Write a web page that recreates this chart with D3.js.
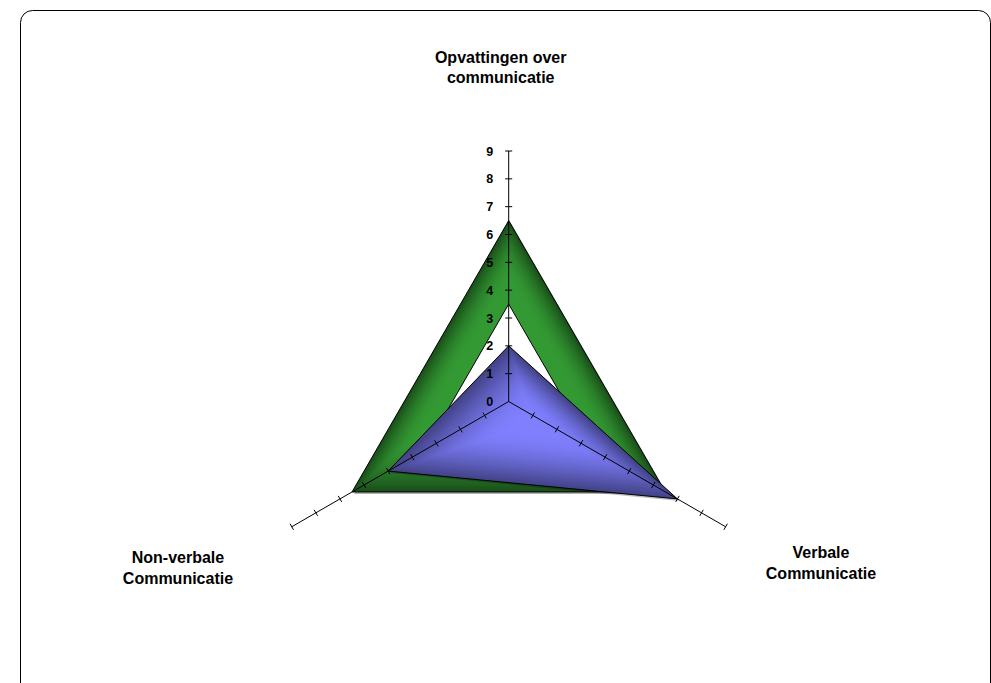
<!DOCTYPE html>
<html>
<head>
<meta charset="utf-8">
<script src="https://cdn.jsdelivr.net/npm/d3@7"></script>
<style>
  html, body { margin: 0; padding: 0; background: #fff; }
  svg { display: block; }
  text { font-family: "Liberation Sans", Arial, sans-serif; font-weight: bold; fill: #000; }
</style>
</head>
<body>
<svg id="chart" width="991" height="683"></svg>
<script>
// Axis categories (one line of text per array entry)
const categories = [
  ["Opvattingen over", "communicatie"],
  ["Verbale", "Communicatie"],
  ["Non-verbale", "Communicatie"]
];

// Radial scale tick labels
const tickLabels = [0, 1, 2, 3, 4, 5, 6, 7, 8, 9];

// Series values, in category order
const seriesOuter = [6.5, 6.5, 6.5];
const seriesInner = [3.5, 3.5, 3.5];
const seriesBlue  = [2, 7, 5];

const width = 991, height = 683;
const cx = 508.7, cy = 401.5;
const rMax = 250.5;

const svg = d3.select("#chart");

// Rounded chart-area frame
svg.append("rect")
  .attr("x", 20.5).attr("y", 10.5)
  .attr("width", 970).attr("height", 700)
  .attr("rx", 12).attr("ry", 12)
  .attr("fill", "#fff")
  .attr("stroke", "#000").attr("stroke-width", 1);

const r = d3.scaleLinear().domain([0, 9]).range([0, rMax]);
const angle = d3.scalePoint().domain(d3.range(categories.length)).range([0, 240]);
const rad = i => (angle(i) - 90) * Math.PI / 180;
const pt = (i, v) => [cx + r(v) * Math.cos(rad(i)), cy + r(v) * Math.sin(rad(i))];

const line = d3.line().curve(d3.curveLinearClosed);

// Fill a polygon with a shape-following gradient: nested copies shrunk
// toward the bounding-box centre, edge colour outside, centre colour inside.
function shadedPolygon(g, pts, edgeCol, centreCol, reach, ease, steps) {
  const xs = pts.map(p => p[0]), ys = pts.map(p => p[1]);
  const c = [(d3.min(xs) + d3.max(xs)) / 2, (d3.min(ys) + d3.max(ys)) / 2];
  const col = d3.interpolateRgb(edgeCol, centreCol);
  const levels = d3.range(steps + 1).map(k => k / steps);
  g.selectAll(null).data(levels).join("path")
    .attr("d", t => line(pts.map(p => [c[0] + (1 - t) * (p[0] - c[0]), c[1] + (1 - t) * (p[1] - c[1])])))
    .attr("fill", t => col(ease(Math.min(1, t / reach))))
    .attr("stroke", "none");
}

function seriesPoints(values) {
  return values.map((v, i) => pt(i, v));
}

const plot = svg.append("g");

// Drop shadow of the outer series
plot.append("path")
  .attr("d", line(seriesPoints(seriesOuter)))
  .attr("transform", "translate(2,2)")
  .attr("fill", "#000").attr("opacity", 0.3);

// Outer green series
const ptsOuter = seriesPoints(seriesOuter);
shadedPolygon(plot.append("g"), ptsOuter, "#1a4e1a", "#349a34", 0.45, d3.easeQuadOut, 90);
plot.append("path").attr("d", line(ptsOuter))
  .attr("fill", "none").attr("stroke", "#000").attr("stroke-width", 1);

// Inner white series
plot.append("path").attr("d", line(seriesPoints(seriesInner)))
  .attr("fill", "#fff").attr("stroke", "#000").attr("stroke-width", 1);

// Blue series
plot.append("path")
  .attr("d", line(seriesPoints(seriesBlue)))
  .attr("transform", "translate(2,2)")
  .attr("fill", "#000").attr("opacity", 0.25);
const ptsBlue = seriesPoints(seriesBlue);
shadedPolygon(plot.append("g"), ptsBlue, "#434387", "#8080ff", 0.85, d3.easeSinOut, 90);
plot.append("path").attr("d", line(ptsBlue))
  .attr("fill", "none").attr("stroke", "#000").attr("stroke-width", 1);

// Axes with tick marks
const axes = svg.append("g");
categories.forEach((cat, i) => {
  const end = pt(i, 9);
  axes.append("line")
    .attr("x1", cx).attr("y1", cy).attr("x2", end[0]).attr("y2", end[1])
    .attr("stroke", "#000").attr("stroke-width", 1);
  const a = rad(i);
  const nx = -Math.sin(a), ny = Math.cos(a);
  axes.selectAll(null).data(tickLabels.filter(d => d > 0)).join("line")
    .attr("x1", d => pt(i, d)[0] - 3.5 * nx).attr("y1", d => pt(i, d)[1] - 3.5 * ny)
    .attr("x2", d => pt(i, d)[0] + 3.5 * nx).attr("y2", d => pt(i, d)[1] + 3.5 * ny)
    .attr("stroke", "#000").attr("stroke-width", 1);
});

// Value labels along the first axis
axes.selectAll(null).data(tickLabels).join("text")
  .attr("x", d => pt(0, d)[0] - 15.5)
  .attr("y", d => pt(0, d)[1])
  .attr("dy", "0.36em")
  .attr("text-anchor", "end")
  .attr("font-size", 12.5)
  .text(d => d);

// Category labels, placed relative to each axis end
const labelOffset = [[-8, -88.3], [95.3, 31.6], [-113.8, 36.6]];
categories.forEach((lines, i) => {
  const end = pt(i, 9);
  const t = svg.append("text")
    .attr("text-anchor", "middle")
    .attr("font-size", 16);
  lines.forEach((s, j) => {
    t.append("tspan")
      .attr("x", end[0] + labelOffset[i][0])
      .attr("y", end[1] + labelOffset[i][1] + j * 20.6)
      .text(s);
  });
});
</script>
</body>
</html>
